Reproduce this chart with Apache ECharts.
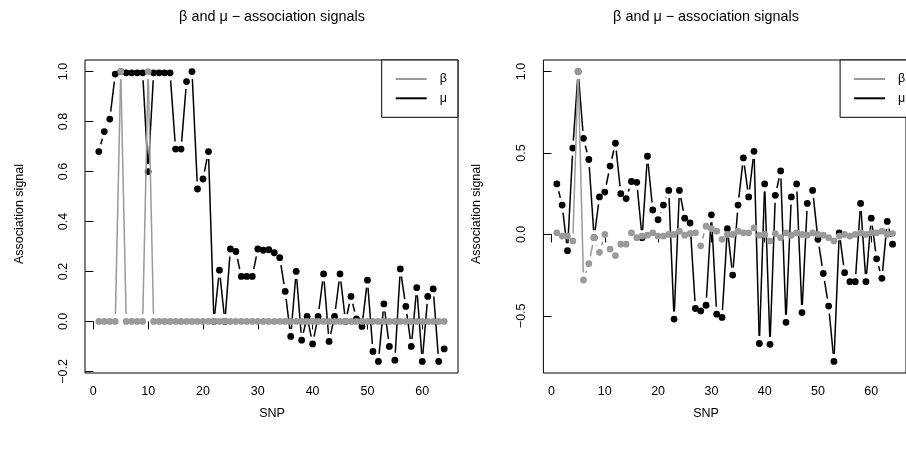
<!DOCTYPE html>
<html>
<head>
<meta charset="utf-8">
<script src="https://cdn.jsdelivr.net/npm/echarts@6/dist/echarts.min.js"></script>
<style>html,body{margin:0;padding:0;background:#fff}#c{width:906px;height:450px}</style>
</head>
<body>
<div id="c"></div>
<script>
// ---------- data ----------
const snp = [1,2,3,4,5,6,7,8,9,10,11,12,13,14,15,16,17,18,19,20,21,22,23,24,25,26,27,28,29,30,31,32,
             33,34,35,36,37,38,39,40,41,42,43,44,45,46,47,48,49,50,51,52,53,54,55,56,57,58,59,60,61,62,63,64];

const betaLeft = [0,0,0,0,1.0,0,0,0,0,1.0,0,0,0,0,0,0,0,0,0,0,0,0,0,0,0,0,0,0,0,0,0,0,
                  0,0,0,0,0,0,0,0,0,0,0,0,0,0,0,0,0,0,0,0,0,0,0,0,0,0,0,0,0,0,0,0];
const muLeft = [0.68,0.76,0.81,0.99,1.0,0.995,0.995,0.995,0.995,0.60,0.995,0.995,0.995,0.995,0.69,0.69,
                0.96,1.0,0.53,0.57,0.68,0.0,0.205,0.0,0.29,0.28,0.18,0.18,0.18,0.29,0.285,0.287,
                0.275,0.255,0.12,-0.06,0.20,-0.075,0.02,-0.09,0.02,0.19,-0.08,0.02,0.19,0.0,0.10,0.01,
                -0.02,0.165,-0.12,-0.16,0.07,-0.10,-0.155,0.21,0.06,-0.10,0.135,-0.16,0.10,0.13,-0.16,-0.11];

const betaRight = [0.01,-0.01,-0.01,-0.04,1.0,-0.28,-0.18,-0.02,-0.11,0.0,-0.09,-0.13,-0.06,-0.06,0.01,-0.02,
                   -0.01,-0.005,0.01,-0.01,-0.01,0.0,0.0,0.02,-0.005,0.005,0.01,-0.07,0.05,0.035,0.02,-0.03,
                   0.0,0.0,0.02,0.01,0.01,0.04,-0.005,0.0,-0.04,0.005,-0.02,0.01,-0.005,0.01,0.0,-0.005,
                   0.01,0.0,-0.005,-0.02,-0.04,-0.01,0.0,-0.01,0.0,0.01,0.0,0.01,0.01,0.02,0.0,0.005];
const muRight = [0.31,0.18,-0.10,0.53,1.0,0.59,0.46,-0.02,0.23,0.26,0.42,0.56,0.25,0.22,0.325,0.32,
                 -0.02,0.48,0.15,0.09,0.18,0.27,-0.52,0.27,0.10,0.07,-0.455,-0.47,-0.435,0.12,-0.49,-0.51,
                 0.035,-0.25,0.18,0.47,0.23,0.51,-0.67,0.31,-0.675,0.24,0.39,-0.54,0.23,0.31,-0.48,0.19,
                 0.27,-0.03,-0.24,-0.44,-0.78,0.01,-0.235,-0.29,-0.29,0.19,-0.29,0.10,-0.15,-0.27,0.08,-0.06];

const xTicks = [0,10,20,30,40,50,60];
const leftYTicks = [-0.2,0.0,0.2,0.4,0.6,0.8,1.0];
const rightYTicks = [-0.5,0.0,0.5,1.0];
const seriesNames = ['\u03b2','\u03bc'];
const titleText = '\u03b2 and \u03bc \u2212 association signals';

// ---------- styling ----------
const FONT = '"Liberation Sans", Arial, Helvetica, sans-serif';
const GRAY = '#9a9a9a', BLACK = '#000000';
const GAP = 7.5, R = 3.4, LW = 1.5;

function pairData(vals) {
  return snp.map((x, k) => {
    const n = k + 1 < snp.length ? k + 1 : k;
    return [x, vals[k], snp[n], vals[n]];
  });
}
function renderB(color) {
  return function (params, api) {
    const p = api.coord([api.value(0), api.value(1)]);
    const q = api.coord([api.value(2), api.value(3)]);
    const children = [];
    const dx = q[0] - p[0], dy = q[1] - p[1];
    const L = Math.hypot(dx, dy);
    if (L > 0) {
      const f = GAP / L;
      if (f < 0.5) {
        children.push({type: 'line',
          shape: {x1: p[0] + f * dx, y1: p[1] + f * dy, x2: q[0] - f * dx, y2: q[1] - f * dy},
          style: {stroke: color, lineWidth: LW}});
      }
    }
    children.push({type: 'circle', shape: {cx: p[0], cy: p[1], r: R}, style: {fill: color}});
    return {type: 'group', children: children};
  };
}
function yFmt(v) { return (v < 0 ? '\u2212' : '') + Math.abs(v).toFixed(1); }

function xAxisCfg(gi) {
  return {type: 'value', gridIndex: gi, min: -1.52, max: 66.52,
    axisLine: {show: false}, splitLine: {show: false},
    axisTick: {show: true, inside: false, length: 8, customValues: xTicks, lineStyle: {color: '#000', width: 1}},
    axisLabel: {customValues: xTicks, color: '#000', fontSize: 12.5, fontFamily: FONT, margin: 12,
      formatter: v => String(v)}};
}
function yAxisCfg(gi, mn, mx, ticks) {
  return {type: 'value', gridIndex: gi, min: mn, max: mx,
    axisLine: {show: false}, splitLine: {show: false},
    axisTick: {show: true, inside: false, length: 8, customValues: ticks, lineStyle: {color: '#000', width: 1}},
    axisLabel: {customValues: ticks, color: '#000', fontSize: 12.5, fontFamily: FONT, rotate: 90, margin: 15,
      formatter: yFmt}};
}
function legendCfg(left) {
  return {left: left, top: 60, orient: 'vertical', selectedMode: false,
    borderColor: '#000', borderWidth: 1, backgroundColor: '#fff',
    padding: [12, 11, 12, 14], itemGap: 5.3, itemWidth: 31, itemHeight: 2,
    textStyle: {color: '#000', fontSize: 12.5, fontFamily: FONT, lineHeight: 14, padding: [0, 0, 0, 8]},
    data: seriesNames.map(n => ({name: n, icon: 'rect'}))};
}
function textEl(x, y, s, size, rot) {
  return {type: 'text', x: x, y: y, rotation: rot || 0,
    style: {text: s, fill: '#000', font: 'normal ' + size + 'px ' + FONT, textAlign: 'center', textVerticalAlign: 'middle'}};
}

const chart = echarts.init(document.getElementById('c'), null, {renderer: 'canvas'});
chart.setOption({
  animation: false,
  backgroundColor: '#fff',
  grid: [
    {left: 85, top: 60, width: 373, height: 313, show: true, borderColor: '#000', borderWidth: 1, backgroundColor: 'transparent'},
    {left: 543.4, top: 60, width: 373, height: 313, show: true, borderColor: '#000', borderWidth: 1, backgroundColor: 'transparent'}
  ],
  xAxis: [xAxisCfg(0), xAxisCfg(1)],
  yAxis: [yAxisCfg(0, -0.2064, 1.0464, leftYTicks), yAxisCfg(1, -0.8512, 1.0712, rightYTicks)],
  legend: [legendCfg(381.7), legendCfg(840.1)],
  series: [
    {type: 'custom', name: seriesNames[1], xAxisIndex: 0, yAxisIndex: 0, itemStyle: {color: BLACK},
     encode: {x: 0, y: 1}, renderItem: renderB(BLACK), data: pairData(muLeft), z: 2},
    {type: 'custom', name: seriesNames[0], xAxisIndex: 0, yAxisIndex: 0, itemStyle: {color: GRAY},
     encode: {x: 0, y: 1}, renderItem: renderB(GRAY), data: pairData(betaLeft), z: 3},
    {type: 'custom', name: seriesNames[1], xAxisIndex: 1, yAxisIndex: 1, itemStyle: {color: BLACK},
     encode: {x: 0, y: 1}, renderItem: renderB(BLACK), data: pairData(muRight), z: 2},
    {type: 'custom', name: seriesNames[0], xAxisIndex: 1, yAxisIndex: 1, itemStyle: {color: GRAY},
     encode: {x: 0, y: 1}, renderItem: renderB(GRAY), data: pairData(betaRight), z: 3}
  ],
  graphic: [
    textEl(272, 17, titleText, 14.4),
    textEl(706, 17, titleText, 14.4),
    textEl(272, 414, 'SNP', 12.5),
    textEl(706, 414, 'SNP', 12.5),
    textEl(20, 214, 'Association signal', 12.5, Math.PI / 2),
    textEl(477, 214, 'Association signal', 12.5, Math.PI / 2)
  ]
});
</script>
</body>
</html>
